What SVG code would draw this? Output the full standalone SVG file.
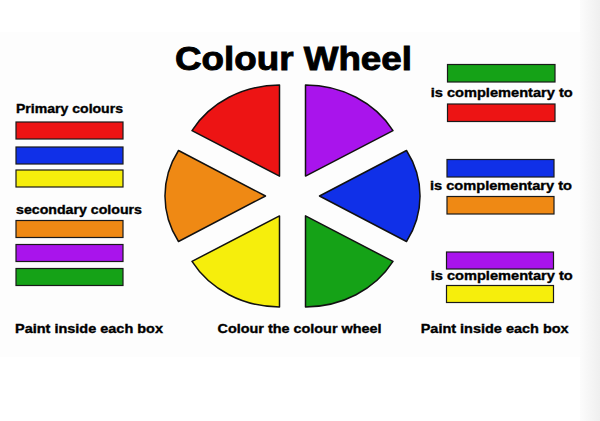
<svg xmlns="http://www.w3.org/2000/svg" width="600" height="421" viewBox="0 0 600 421">
<defs>
<linearGradient id="edge" x1="0" y1="0" x2="1" y2="0">
<stop offset="0" stop-color="#fcfcfc"/>
<stop offset="1" stop-color="#efefef"/>
</linearGradient>
</defs>
<style>
text{font-family:"Liberation Sans",Arial,Helvetica,sans-serif;font-weight:bold;fill:#000;stroke:#000}
.t{font-size:33px;stroke-width:0.9}
.l{font-size:12.5px;stroke-width:0.35}
.box{stroke:#1a1a1a;stroke-width:1.2}
.seg{stroke:#111;stroke-width:1.5;stroke-linejoin:round}
.red{fill:#ed1414}.blue{fill:#1030e8}.yellow{fill:#f6ee0c}
.orange{fill:#ef8914}.purple{fill:#a914ec}.green{fill:#15a217}
</style>
<rect width="600" height="421" fill="#ffffff"/>
<rect x="0" y="32" width="580" height="325" fill="#fdfdfd"/>
<rect x="580" y="0" width="20" height="421" fill="url(#edge)"/>

<g id="title"><text class="t" x="175" y="69.5" textLength="237" lengthAdjust="spacingAndGlyphs">Colour Wheel</text></g>

<g id="wheel">
<path id="seg-red" class="seg red" d="M279.5 176.1 L279.5 85.1 A101 91 0 0 0 192 130.6 Z"/>
<path id="seg-purple" class="seg purple" d="M305.5 176.1 L393 130.6 A101 91 0 0 0 305.5 85.1 Z"/>
<path id="seg-blue" class="seg blue" d="M319.5 196 L406.5 241.5 A101 91 0 0 0 406.5 150.5 Z"/>
<path id="seg-green" class="seg green" d="M305.5 215.9 L305.5 306.9 A101 91 0 0 0 393 261.4 Z"/>
<path id="seg-yellow" class="seg yellow" d="M279.5 215.9 L192 261.4 A101 91 0 0 0 279.5 306.9 Z"/>
<path id="seg-orange" class="seg orange" d="M265.5 196 L178.5 150.5 A101 91 0 0 0 178.5 241.5 Z"/>
</g>

<g id="primary">
<text class="l" x="16" y="113.3" textLength="107" lengthAdjust="spacingAndGlyphs">Primary colours</text>
<rect class="box red" x="16" y="122" width="107" height="17"/>
<rect class="box blue" x="16" y="147" width="107" height="17"/>
<rect class="box yellow" x="16" y="170" width="107" height="17"/>
</g>

<g id="secondary">
<text class="l" x="16" y="214" textLength="126" lengthAdjust="spacingAndGlyphs">secondary colours</text>
<rect class="box orange" x="16" y="220.5" width="107" height="17"/>
<rect class="box purple" x="16" y="244.5" width="107" height="17"/>
<rect class="box green" x="16" y="268.5" width="107" height="17"/>
</g>

<g id="left-note"><text class="l" x="15" y="333.3" textLength="148" lengthAdjust="spacingAndGlyphs">Paint inside each box</text></g>
<g id="center-note"><text class="l" x="217.5" y="333.3" textLength="164" lengthAdjust="spacingAndGlyphs">Colour the colour wheel</text></g>
<g id="right-note"><text class="l" x="420.7" y="333.3" textLength="148" lengthAdjust="spacingAndGlyphs">Paint inside each box</text></g>

<g id="pair1">
<rect class="box green" x="447.5" y="64.5" width="107.5" height="17.5"/>
<text class="l" x="430.7" y="97.3" textLength="142" lengthAdjust="spacingAndGlyphs">is complementary to</text>
<rect class="box red" x="447.5" y="104" width="107.5" height="17.5"/>
</g>
<g id="pair2">
<rect class="box blue" x="447" y="159.5" width="107" height="17.5"/>
<text class="l" x="430" y="190" textLength="142" lengthAdjust="spacingAndGlyphs">is complementary to</text>
<rect class="box orange" x="447" y="196.5" width="107" height="17.5"/>
</g>
<g id="pair3">
<rect class="box purple" x="446.5" y="252" width="107" height="17"/>
<text class="l" x="430.7" y="280" textLength="142" lengthAdjust="spacingAndGlyphs">is complementary to</text>
<rect class="box yellow" x="446.5" y="285.5" width="107" height="17"/>
</g>
</svg>
